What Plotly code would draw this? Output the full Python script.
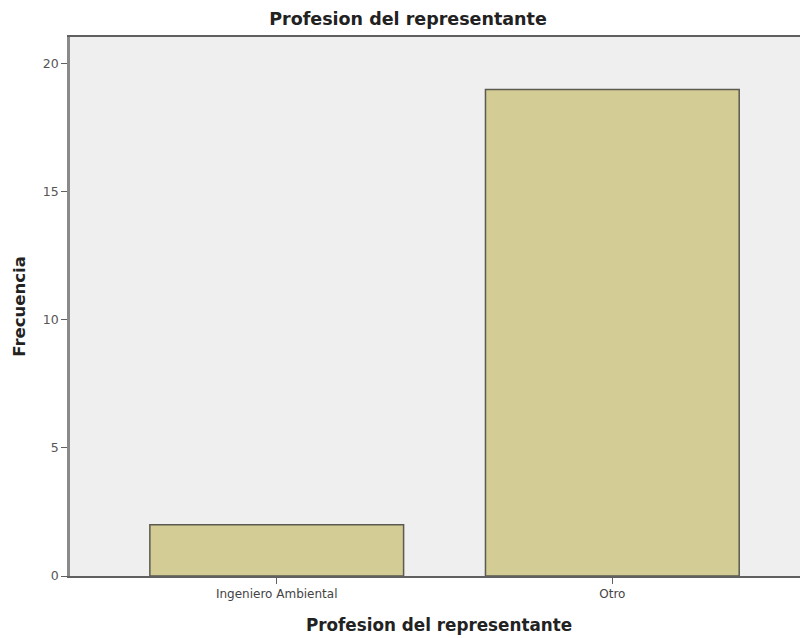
import plotly.graph_objects as go

categories = ["Ingeniero Ambiental", "Otro"]
frecuencia = [2, 19]
y_ticks = [0, 5, 10, 15, 20]

fig = go.Figure()
fig.add_trace(go.Bar(
    x=categories,
    y=frecuencia,
    width=0.756,
    marker=dict(color="#d3cd95", line=dict(color="#5a5a50", width=1.5)),
))

fig.update_layout(
    width=808, height=638,
    margin=dict(l=62, r=8, t=29, b=70),
    paper_bgcolor="white",
    plot_bgcolor="#efefef",
    showlegend=False,
    title=dict(
        text="<b>Profesion del representante</b>",
        x=400/808, xanchor="center", xref="container",
        y=1 - 11/638, yanchor="middle", yref="container",
        font=dict(family="DejaVu Sans", size=17.5, color="#222222"),
    ),
    xaxis=dict(
        type="category",
        range=[-0.616, 1.583],
        showgrid=False,
        showline=True, linecolor="#606060", linewidth=1.5, mirror=True,
        ticks="outside", ticklen=6, tickcolor="#606060",
        tickfont=dict(family="DejaVu Sans", size=12, color="#444444"),
        title=dict(text="<b>Profesion del representante</b>",
                   font=dict(family="DejaVu Sans", size=16.8, color="#222222"),
                   standoff=19),
        zeroline=False,
    ),
    yaxis=dict(
        range=[0, 21.05],
        tickvals=y_ticks,
        showgrid=False,
        showline=True, linecolor="#8a8a8a", linewidth=2.5,
        ticks="outside", ticklen=6, tickcolor="#606060",
        tickfont=dict(family="DejaVu Sans", size=12.5, color="#555555"),
        title=dict(text="<b>Frecuencia</b>",
                   font=dict(family="DejaVu Sans", size=16.5, color="#222222"),
                   standoff=14),
        zeroline=False,
    ),
)

fig.write_html("out.html")
